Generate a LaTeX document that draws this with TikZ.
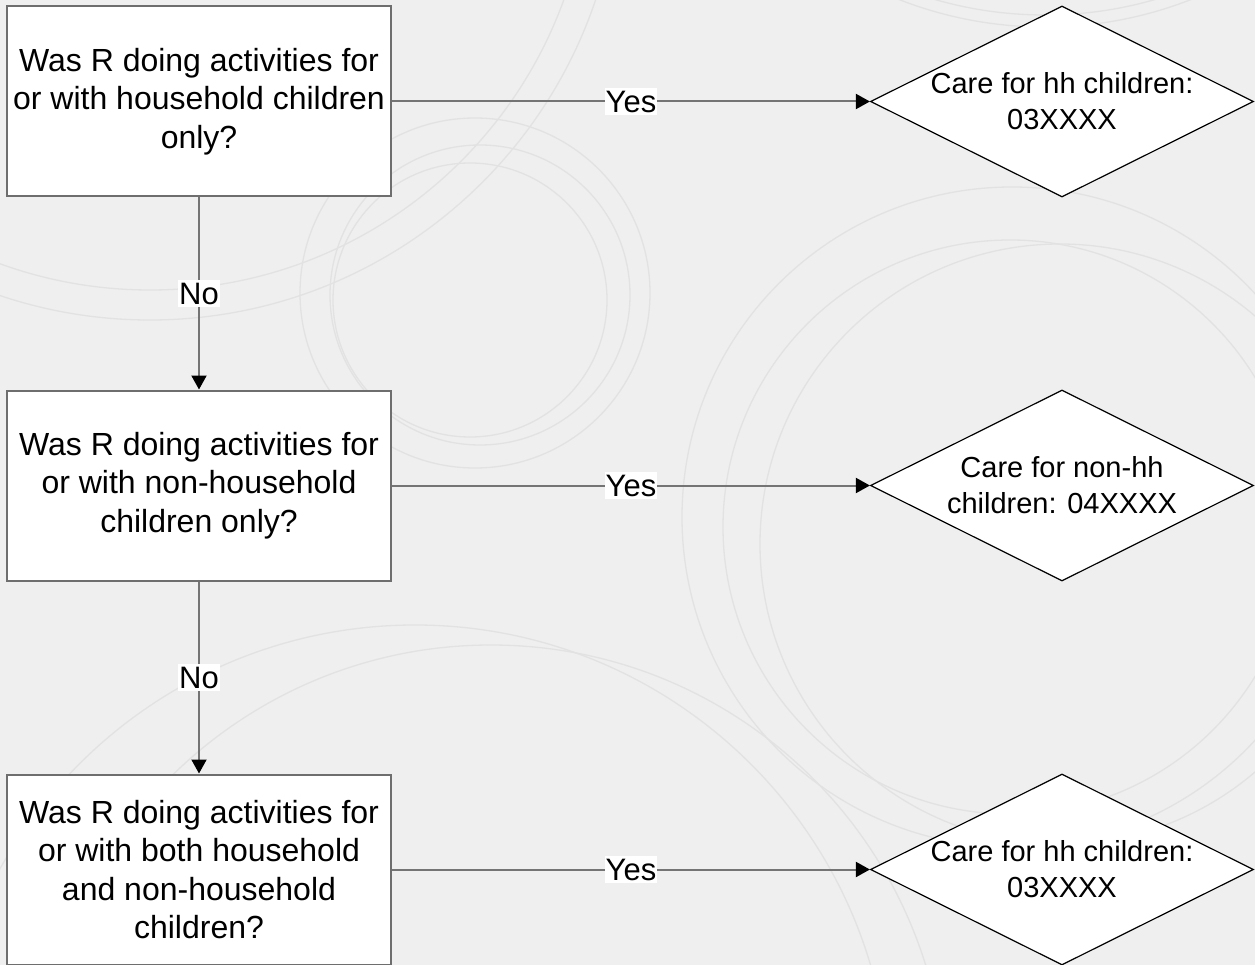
\documentclass[tikz,border=0pt]{standalone}
\usepackage{fontspec}
\setmainfont{Liberation Sans}
\usetikzlibrary{arrows.meta,shapes.geometric}
\definecolor{bgc}{HTML}{EFEFEF}
\definecolor{ringc}{HTML}{E2E2E2}
\definecolor{edgegray}{HTML}{6E6E6E}
\definecolor{linegray}{HTML}{747474}
\begin{document}
\begin{tikzpicture}[x=1pt,y=-1pt,
  qbox/.style={draw=edgegray, line width=2pt, fill=white, minimum width=384pt, minimum height=190pt, align=center, inner sep=0pt, font=\fontsize{32}{38.5}\selectfont},
  dshape/.style={diamond, draw=black, line width=1.2pt, fill=white, minimum width=383pt, minimum height=191pt, inner sep=0pt},
  dtext/.style={align=center, inner sep=0pt, font=\fontsize{29}{36}\selectfont},
  conn/.style={draw=linegray, line width=2pt, -{Triangle[length=14pt,width=15pt,black]}},
  lab/.style={fill=white, inner xsep=1pt, inner ysep=3pt, font=\fontsize{31}{36}\selectfont},
  ring/.style={draw=ringc, line width=1.3pt}
]
% background
\fill[bgc] (0,0) rectangle (1255,965);
\useasboundingbox (0,0) rectangle (1255,965);
\begin{scope}
\clip (0,0) rectangle (1255,965);
\draw[ring] (475,293) circle (175);
\draw[ring] (480,295) circle (150);
\draw[ring] (470,300) circle (137);
\draw[ring] (150,-150) circle (440);
\draw[ring] (150,-150) circle (470);
\draw[ring] (1045,-381) circle (396);
\draw[ring] (1045,-373) circle (400);
\draw[ring] (1012,517) circle (330);
\draw[ring] (1010,527) circle (287);
\draw[ring] (1060,544) circle (300);
\draw[ring] (415,1100) circle (475);
\draw[ring] (491,1100) circle (455);
\end{scope}

% question boxes
\node[qbox] (q1) at (199,101.5) {Was R doing activities for\\or with household children\\only?};
\node[qbox] (q2) at (199,485.5) {Was R doing activities for\\or with non-household\\children only?};
\node[qbox] (q3) at (199,869.5) {Was R doing activities for\\or with both household\\and non-household\\children?};

% result diamonds
\node[dshape] (d1) at (1062,101.5) {};
\node[dtext] (t1) at (d1.center) {Care for hh children:\\03XXXX};
\node[dshape] (d2) at (1062,485.5) {};
\node[dtext] (t2) at (d2.center) {Care for non-hh\\children: 04XXXX};
\node[dshape] (d3) at (1062,869.5) {};
\node[dtext] (t3) at (d3.center) {Care for hh children:\\03XXXX};

% connectors
\draw[conn] (q1.east) -- node[lab] {Yes} (d1.west);
\draw[conn] (q2.east) -- node[lab] {Yes} (d2.west);
\draw[conn] (q3.east) -- node[lab] {Yes} (d3.west);
\draw[conn] (q1.south) -- node[lab] {No} (q2.north);
\draw[conn] (q2.south) -- node[lab] {No} (q3.north);
\end{tikzpicture}
\end{document}
